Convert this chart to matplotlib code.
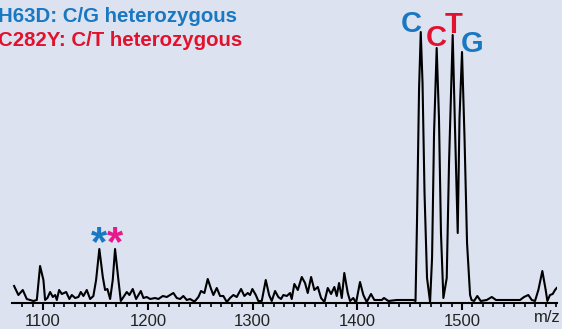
import matplotlib
matplotlib.use("Agg")
import matplotlib.pyplot as plt
from matplotlib.ticker import MultipleLocator

# spectrum trace (m/z, intensity in arbitrary units)
mz = [1072.3, 1076.4, 1080.6, 1084.4, 1090.7, 1094.0, 1097.1, 1100.3, 1101.9, 1104.1,
      1106.7, 1109.3, 1111.5, 1113.1, 1115.3, 1117.9, 1122.0, 1125.1, 1127.4, 1130.6,
      1133.7, 1136.0, 1138.5, 1141.7, 1144.9, 1148.0, 1150.6, 1153.7, 1157.0, 1159.2,
      1161.4, 1164.0, 1166.5, 1168.7, 1171.9, 1174.2, 1176.7, 1179.9, 1182.4, 1185.6,
      1188.8, 1193.3, 1195.8, 1199.0, 1202.2, 1206.9, 1210.1, 1214.3, 1218.1, 1221.2,
      1224.4, 1227.6, 1230.8, 1233.9, 1237.2, 1240.3, 1243.5, 1245.1, 1248.3, 1250.8,
      1254.0, 1257.2, 1260.4, 1262.6, 1265.8, 1269.0, 1272.1, 1275.4, 1278.5, 1281.7,
      1284.9, 1289.0, 1292.2, 1295.4, 1297.6, 1299.8, 1303.1, 1305.5, 1308.8, 1312.6,
      1315.8, 1318.3, 1321.5, 1324.6, 1327.2, 1329.4, 1332.7, 1335.8, 1337.4, 1339.9,
      1343.2, 1347.0, 1350.1, 1352.7, 1355.9, 1359.0, 1362.3, 1365.4, 1368.6, 1371.8,
      1375.0, 1378.1, 1380.4, 1382.6, 1385.2, 1387.6, 1390.9, 1393.1, 1396.2, 1398.8,
      1402.6, 1405.8, 1409.0, 1413.1, 1416.3, 1423.4, 1425.5, 1429.7, 1437.7, 1453.5,
      1455.6, 1457.0, 1459.0, 1460.6, 1462.3, 1464.2, 1466.6, 1469.5, 1471.4, 1473.3,
      1475.8, 1478.0, 1479.9, 1482.2, 1485.4, 1487.6, 1491.1, 1493.3, 1495.9, 1497.6,
      1500.0, 1502.4, 1504.8, 1507.7, 1509.1, 1511.5, 1514.6, 1517.9, 1523.6, 1528.4,
      1532.5, 1542.7, 1555.4, 1559.2, 1563.3, 1566.6, 1569.7, 1572.9, 1576.7, 1579.9,
      1581.5, 1584.0, 1586.6, 1588.8, 1590.4]
inten = [17, 8, 13, 4, 2, 3, 37, 23, 3, 5,
         11, 6, 8, 3, 13, 9, 11, 4, 8, 5,
         6, 11, 7, 13, 4, 7, 23, 54, 26, 13,
         14, 4, 23, 54, 23, 2, 6, 11, 8, 14,
         4, 12, 5, 6, 4, 5, 4, 7, 6, 8,
         10, 5, 4, 7, 3, 4, 2, 2, 6, 12,
         10, 24, 14, 8, 15, 7, 7, 1, 5, 8,
         6, 14, 7, 10, 8, 14, 8, 2, 2, 23,
         8, 2, 12, 6, 4, 8, 7, 10, 4, 19,
         13, 26, 20, 10, 26, 13, 16, 5, 1, 15,
         9, 16, 7, 20, 5, 30, 10, 2, 5, 0,
         21, 8, 1, 9, 3, 3, 5, 2, 3, 3,
         2, 80, 215, 271, 220, 110, 25, 1, 45, 170,
         255, 185, 70, 5, 25, 140, 268, 175, 70, 185,
         251, 165, 60, 8, 3, 2, 7, 2, 3, 6,
         3, 3, 3, 6, 8, 3, 2, 13, 32, 13,
         2, 8, 9, 13, 15]

xticks = [1100, 1200, 1300, 1400, 1500]
snp_lines = ["H63D: C/G heterozygous", "C282Y: C/T heterozygous"]
base_calls = ["C", "C", "T", "G"]
star_peaks = [1153.7, 1168.7]

BLUE = "#1878c2"
RED = "#e2122e"
PINK = "#e8198b"
BG = "#dce2f0"

plt.rcParams["font.family"] = ["Liberation Sans", "DejaVu Sans"]

W, H = 562, 329
fig = plt.figure(figsize=(W / 100, H / 100), dpi=100, facecolor=BG)
ax = fig.add_axes([12 / W, 26 / H, 545 / W, 303 / H])
ax.set_facecolor(BG)
ax.plot(mz, inten, color="black", lw=1.5, solid_joinstyle="round")
ax.set_xlim(1070.3, 1590.7)
ax.set_ylim(0, 303)

for s in ["top", "left", "right"]:
    ax.spines[s].set_visible(False)
ax.spines["bottom"].set_linewidth(1.5)
ax.set_yticks([])
ax.set_xticks(xticks)
ax.xaxis.set_minor_locator(MultipleLocator(10))
ax.tick_params(axis="x", which="major", length=5, width=1.5, labelsize=12,
               labelcolor="#222222", pad=3)
ax.tick_params(axis="x", which="minor", length=3, width=1.2)

# header lines
fig.text(-2 / W, 1 - 16 / H, snp_lines[0], color=BLUE, fontsize=14.7,
         fontweight="bold", va="center", ha="left")
fig.text(-2 / W, 1 - 40 / H, snp_lines[1], color=RED, fontsize=14.7,
         fontweight="bold", va="center", ha="left")

# base calls above the big peaks (pixel positions of letter baselines)
pos = [(411, 32), (436, 46), (454, 33), (472, 52)]
colors = [BLUE, RED, RED, BLUE]
for lab, (px, py), c in zip(base_calls, pos, colors):
    fig.text(px / W, 1 - py / H, lab, ha="center", va="baseline", color=c,
             fontsize=21, fontweight="bold")

# asterisks over the two small peaks
for x, c in zip(star_peaks, [BLUE, PINK]):
    ax.annotate("*", (x, 54), xytext=(0, -6), textcoords="offset pixels",
                ha="center", va="baseline", color=c, fontsize=30,
                fontweight="bold")

fig.text(547 / W, 1 - 318 / H, "m/z", color="#222222", fontsize=12,
         va="center", ha="center")

fig.savefig("out.png", dpi=100, facecolor=BG)
